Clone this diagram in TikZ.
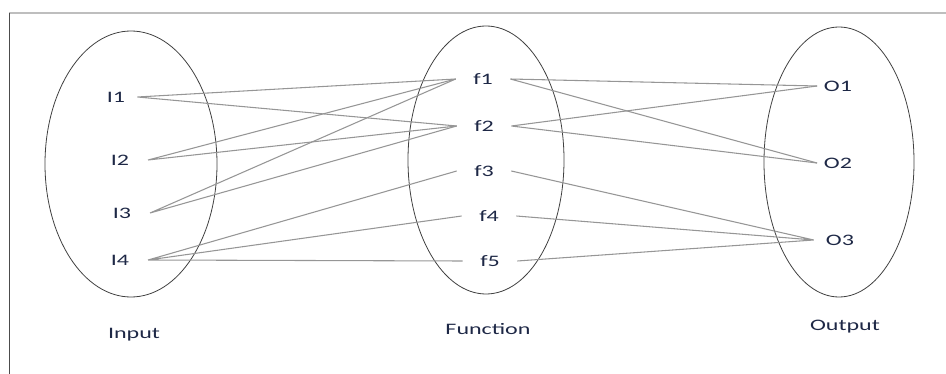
\documentclass[tikz,border=0pt]{standalone}
\usepackage{fontspec}
\setmainfont{Carlito}
\definecolor{labelblue}{RGB}{30, 40, 70}
\definecolor{linegray}{RGB}{150, 150, 150}
\definecolor{framegray}{RGB}{190, 190, 190}
\usepackage{tikz}
\usetikzlibrary{positioning}
\newcommand{\wide}[1]{\scalebox{1.5}[1]{#1}}

\begin{document}
\begin{tikzpicture}[x=0.75pt, y=-0.75pt]
  \useasboundingbox (0,0) rectangle (946,374);

  % frame
  \draw[framegray, line width=1.5pt] (9,13) -- (946,13);
  \draw[black!70, line width=1pt] (9.5,13) -- (9.5,374);

  % the three sets
  \draw[black!75, line width=0.6pt] (131,164) ellipse [x radius=86, y radius=133];
  \draw[black!75, line width=0.6pt] (486,160) ellipse [x radius=78, y radius=134];
  \draw[black!75, line width=0.6pt] (839,162) ellipse [x radius=75, y radius=135];

  % input elements
  \node[font=\fontsize{12}{14}\selectfont, text=labelblue, inner xsep=9pt, inner ysep=1pt] (i1) at (116,97) {\wide{I1}};
  \node[font=\fontsize{12}{14}\selectfont, text=labelblue, inner xsep=14pt, inner ysep=1pt] (i2) at (120,160) {\wide{I2}};
  \node[font=\fontsize{12}{14}\selectfont, text=labelblue, inner xsep=14pt, inner ysep=1pt] (i3) at (122,213) {\wide{I3}};
  \node[font=\fontsize{12}{14}\selectfont, text=labelblue, inner xsep=14pt, inner ysep=1pt] (i4) at (120,260) {\wide{I4}};

  % functions
  \node[font=\fontsize{12}{14}\selectfont, text=labelblue, inner xsep=13pt, inner ysep=1pt] (f1) at (483,79) {\wide{f1}};
  \node[font=\fontsize{12}{14}\selectfont, text=labelblue, inner xsep=13pt, inner ysep=1pt] (f2) at (484,126) {\wide{f2}};
  \node[font=\fontsize{12}{14}\selectfont, text=labelblue, inner xsep=13pt, inner ysep=1pt] (f3) at (484,171) {\wide{f3}};
  \node[font=\fontsize{12}{14}\selectfont, text=labelblue, inner xsep=13pt, inner ysep=1pt] (f4) at (489,216) {\wide{f4}};
  \node[font=\fontsize{12}{14}\selectfont, text=labelblue, inner xsep=13pt, inner ysep=1pt] (f5) at (490,261) {\wide{f5}};

  % outputs
  \node[font=\fontsize{12}{14}\selectfont, text=labelblue, inner xsep=5pt, inner ysep=1pt] (o1) at (838,86) {\wide{O1}};
  \node[font=\fontsize{12}{14}\selectfont, text=labelblue, inner xsep=5pt, inner ysep=1pt] (o2) at (838,163) {\wide{O2}};
  \node[font=\fontsize{12}{14}\selectfont, text=labelblue, inner xsep=9pt, inner ysep=1pt] (o3) at (840,240) {\wide{O3}};

  % set names
  \node[font=\fontsize{12}{14}\selectfont, text=labelblue] (inp) at (134,335) {\wide{Input}};
  \node[font=\fontsize{12}{14}\selectfont, text=labelblue] (fun) at (488,329) {\wide{Function}};
  \node[font=\fontsize{12}{14}\selectfont, text=labelblue] (out) at (845,327) {\wide{Output}};

  % input -> function
  \draw[linegray, line width=0.8pt] (i1.east) -- (f1.west) (i1.east) -- (f2.west);
  \draw[linegray, line width=0.8pt] (i2.east) -- (f1.west) (i2.east) -- (f2.west);
  \draw[linegray, line width=0.8pt] (i3.east) -- (f1.west) (i3.east) -- (f2.west);
  \draw[linegray, line width=0.8pt] (i4.east) -- (f3.west) (i4.east) -- (f4.west) (i4.east) -- (f5.west);

  % function -> output
  \draw[linegray, line width=0.8pt] (f1.east) -- (o1.west) (f1.east) -- (o2.west);
  \draw[linegray, line width=0.8pt] (f2.east) -- (o1.west) (f2.east) -- (o2.west);
  \draw[linegray, line width=0.8pt] (f3.east) -- (o3.west) (f4.east) -- (o3.west) (f5.east) -- (o3.west);
\end{tikzpicture}
\end{document}
